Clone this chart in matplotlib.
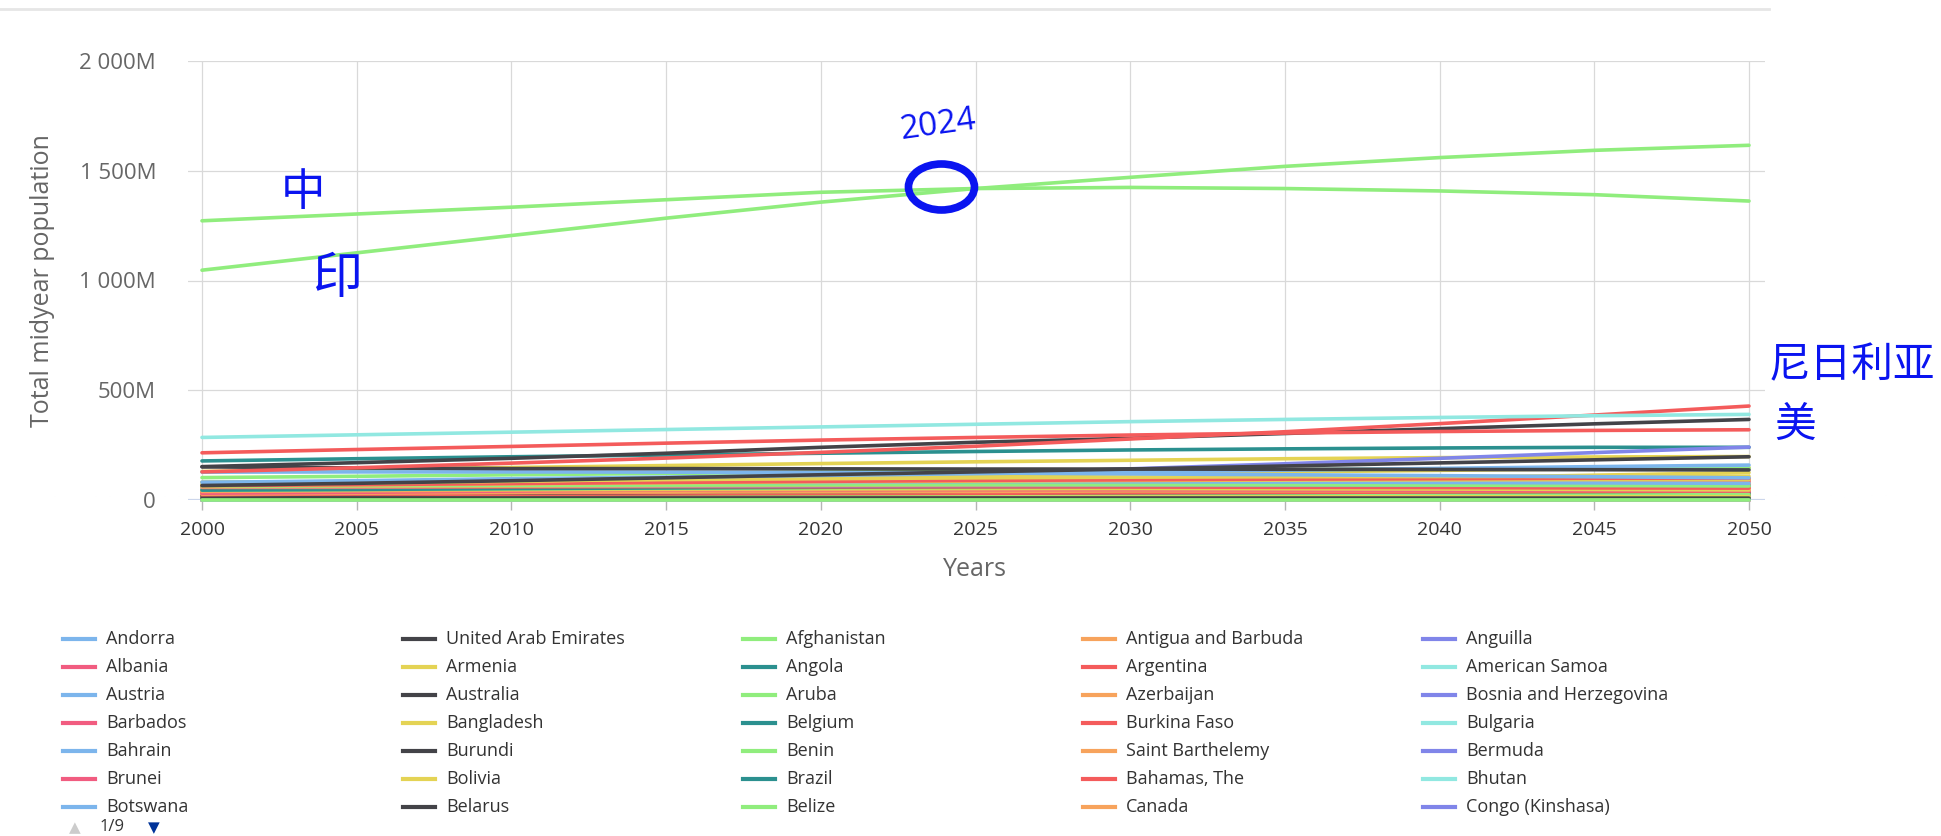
import matplotlib
matplotlib.use("Agg")
import matplotlib.pyplot as plt
from matplotlib.lines import Line2D
from matplotlib.patches import Ellipse

W, H = 1941, 836

years = [2000, 2005, 2010, 2015, 2020, 2025, 2030, 2035, 2040, 2045, 2050]

# population in millions (5-year steps)
# --- legend page 1 (35 entries) ---
andorra = [0.07, 0.08, 0.08, 0.08, 0.08, 0.09, 0.09, 0.09, 0.09, 0.09, 0.09]
united_arab_emirates = [3.2, 4.1, 8.3, 9.2, 9.9, 10.0, 10.5, 10.9, 11.3, 11.6, 11.9]
afghanistan = [20, 24, 28, 32, 37, 40, 45, 50, 55, 60, 64]
antigua_and_barbuda = [0.08, 0.08, 0.09, 0.1, 0.1, 0.1, 0.1, 0.1, 0.11, 0.11, 0.11]
anguilla = [0.01, 0.01, 0.01, 0.02, 0.02, 0.02, 0.02, 0.02, 0.02, 0.02, 0.02]
albania = [3.1, 3.0, 2.9, 3.0, 3.1, 3.1, 3.1, 3.0, 3.0, 2.9, 2.8]
armenia = [3.1, 3.0, 3.0, 3.0, 3.0, 3.0, 3.0, 2.9, 2.9, 2.8, 2.7]
angola = [16, 20, 24, 28, 32, 37, 42, 48, 54, 60, 67]
argentina = [37, 39, 41, 43, 45, 47, 48, 50, 51, 52, 53]
american_samoa = [0.06, 0.06, 0.06, 0.05, 0.05, 0.04, 0.04, 0.04, 0.04, 0.04, 0.04]
austria = [8.1, 8.2, 8.4, 8.7, 8.9, 9.0, 9.1, 9.2, 9.2, 9.2, 9.2]
australia = [19, 20, 22, 23, 25, 27, 28, 29, 30, 31, 32]
aruba = [0.09, 0.1, 0.1, 0.11, 0.12, 0.12, 0.12, 0.12, 0.12, 0.12, 0.12]
azerbaijan = [8.0, 8.4, 9.0, 9.6, 10.2, 10.6, 11.0, 11.3, 11.5, 11.6, 11.7]
bosnia_and_herzegovina = [3.8, 3.9, 3.9, 3.9, 3.8, 3.8, 3.7, 3.6, 3.5, 3.4, 3.3]
barbados = [0.27, 0.28, 0.28, 0.29, 0.29, 0.3, 0.3, 0.3, 0.3, 0.29, 0.29]
bangladesh = [130, 139, 148, 157, 166, 174, 181, 188, 193, 196, 198]
belgium = [10.3, 10.5, 10.9, 11.3, 11.7, 11.9, 12.1, 12.2, 12.3, 12.4, 12.4]
burkina_faso = [11.6, 13.4, 15.6, 18.1, 20.9, 23.8, 26.8, 29.9, 33.0, 36.1, 39.2]
bulgaria = [7.8, 7.5, 7.2, 7.0, 6.9, 6.8, 6.5, 6.3, 6.1, 5.9, 5.7]
bahrain = [0.7, 0.9, 1.2, 1.4, 1.5, 1.6, 1.7, 1.8, 1.8, 1.9, 1.9]
burundi = [6.7, 7.9, 9.3, 10.9, 12.6, 14.1, 15.9, 17.8, 19.7, 21.6, 23.5]
benin = [6.9, 8.0, 9.2, 10.7, 12.3, 14.1, 16.0, 18.0, 20.1, 22.2, 24.4]
saint_barthelemy = [0.007, 0.007, 0.007, 0.007, 0.007, 0.007, 0.007, 0.007, 0.007, 0.007, 0.007]
bermuda = [0.06, 0.07, 0.07, 0.07, 0.07, 0.07, 0.07, 0.06, 0.06, 0.06, 0.06]
brunei = [0.33, 0.36, 0.39, 0.42, 0.44, 0.49, 0.51, 0.53, 0.55, 0.56, 0.57]
bolivia = [8.3, 9.1, 9.9, 10.7, 11.6, 12.3, 13.0, 13.7, 14.3, 14.9, 15.4]
brazil = [178, 188, 197, 205, 213, 221, 228, 233, 237, 240, 240]
bahamas = [0.3, 0.32, 0.34, 0.36, 0.37, 0.41, 0.42, 0.44, 0.45, 0.46, 0.47]
bhutan = [0.6, 0.65, 0.7, 0.75, 0.78, 0.88, 0.92, 0.96, 0.99, 1.0, 1.0]
botswana = [1.6, 1.8, 2.0, 2.2, 2.3, 2.5, 2.7, 2.9, 3.0, 3.2, 3.3]
belarus = [10.0, 9.7, 9.5, 9.5, 9.4, 9.4, 9.2, 9.0, 8.8, 8.6, 8.4]
belize = [0.25, 0.29, 0.33, 0.37, 0.40, 0.42, 0.45, 0.48, 0.50, 0.52, 0.54]
canada = [31, 32, 34, 36, 37, 39, 41, 42, 43, 44, 45]
congo_kinshasa = [46, 55, 66, 80, 98, 119, 142, 165, 190, 216, 241]

# --- other countries that show on the chart ---
china = [1272, 1303, 1334, 1368, 1402, 1419, 1424, 1419, 1408, 1391, 1362]
india = [1047, 1126, 1205, 1284, 1357, 1419, 1470, 1520, 1560, 1593, 1616]
united_states = [285, 297, 309, 321, 333, 345, 357, 367, 376, 384, 390]
indonesia = [215, 230, 244, 259, 273, 285, 296, 305, 312, 317, 320]
nigeria = [128, 147, 168, 191, 217, 245, 278, 311, 348, 387, 428]
pakistan = [152, 170, 190, 213, 240, 263, 281, 303, 325, 347, 367]
russia = [151, 146, 143, 143, 142, 141, 141, 140, 139, 138, 137]
ethiopia = [66, 76, 88, 101, 115, 128, 141, 155, 169, 183, 197]
japan = [127, 128, 128, 127, 125, 123, 119, 115, 111, 106, 101]
philippines = [80, 88, 97, 104, 112, 120, 128, 136, 144, 152, 159]
mexico = [102, 108, 115, 121, 127, 131, 135, 138, 141, 143, 145]
egypt = [70, 77, 85, 95, 104, 112, 120, 128, 135, 142, 148]
vietnam = [80, 84, 88, 93, 97, 101, 104, 106, 107, 108, 108]
iran = [66, 70, 75, 80, 85, 89, 92, 95, 97, 99, 99]
turkey = [64, 69, 73, 78, 83, 86, 89, 91, 92, 93, 93]
germany = [82, 82, 81, 81, 80, 84, 83, 82, 80, 78, 76]
thailand = [63, 65, 67, 68, 69, 70, 70, 69, 68, 66, 64]
tanzania = [34, 39, 45, 52, 60, 69, 79, 90, 101, 113, 125]
united_kingdom = [59, 61, 63, 65, 67, 69, 70, 71, 72, 73, 73]
france = [59, 61, 63, 64, 65, 66, 67, 67, 67, 67, 67]
italy = [57, 58, 60, 61, 60, 60, 59, 58, 57, 55, 54]
south_africa = [45, 48, 52, 55, 58, 61, 63, 65, 67, 68, 69]
myanmar = [45, 48, 51, 54, 56, 57, 59, 60, 61, 61, 61]
kenya = [31, 35, 41, 46, 52, 57, 63, 69, 74, 80, 85]
south_korea = [47, 48, 49, 50, 51, 52, 52, 51, 50, 48, 46]
colombia = [39, 42, 45, 47, 50, 52, 54, 56, 58, 59, 60]
spain = [40, 43, 46, 47, 47, 47, 47, 46, 45, 44, 43]
uganda = [24, 28, 34, 40, 46, 53, 60, 68, 76, 84, 92]
sudan = [27, 31, 35, 39, 45, 50, 56, 62, 68, 74, 80]

legend_names = [
    "Andorra", "United Arab Emirates", "Afghanistan", "Antigua and Barbuda", "Anguilla",
    "Albania", "Armenia", "Angola", "Argentina", "American Samoa",
    "Austria", "Australia", "Aruba", "Azerbaijan", "Bosnia and Herzegovina",
    "Barbados", "Bangladesh", "Belgium", "Burkina Faso", "Bulgaria",
    "Bahrain", "Burundi", "Benin", "Saint Barthelemy", "Bermuda",
    "Brunei", "Bolivia", "Brazil", "Bahamas, The", "Bhutan",
    "Botswana", "Belarus", "Belize", "Canada", "Congo (Kinshasa)",
]
legend_values = [
    andorra, united_arab_emirates, afghanistan, antigua_and_barbuda, anguilla,
    albania, armenia, angola, argentina, american_samoa,
    austria, australia, aruba, azerbaijan, bosnia_and_herzegovina,
    barbados, bangladesh, belgium, burkina_faso, bulgaria,
    bahrain, burundi, benin, saint_barthelemy, bermuda,
    brunei, bolivia, brazil, bahamas, bhutan,
    botswana, belarus, belize, canada, congo_kinshasa,
]

other_names = ["Tanzania", "Uganda", "Sudan", "Kenya", "Spain", "Colombia", "South Korea",
               "Myanmar", "South Africa", "Italy", "France", "United Kingdom", "Thailand",
               "Germany", "Turkey", "Iran", "Vietnam", "Egypt", "Mexico", "Philippines",
               "Japan", "Ethiopia", "Russia", "Pakistan", "Nigeria", "Indonesia",
               "United States", "China", "India"]
other_values = [tanzania, uganda, sudan, kenya, spain, colombia, south_korea,
                myanmar, south_africa, italy, france, united_kingdom, thailand,
                germany, turkey, iran, vietnam, egypt, mexico, philippines,
                japan, ethiopia, russia, pakistan, nigeria, indonesia,
                united_states, china, india]

ytick_vals = [0, 500, 1000, 1500, 2000]
ytick_labels = ["0", "500M", "1 000M", "1 500M", "2 000M"]

# styles
palette = ['#7cb5ec', '#434348', '#90ed7d', '#f7a35c', '#8085e9',
           '#f15c80', '#e4d354', '#2b908f', '#f45b5b', '#91e8e1']
other_colors = {
    "Tanzania": '#e4d354', "Uganda": '#f45b5b', "Sudan": '#f7a35c', "Kenya": '#f15c80',
    "Spain": '#f15c80', "Colombia": '#f7a35c', "South Korea": '#e4d354',
    "Myanmar": '#90ed7d', "South Africa": '#2b908f', "Italy": '#f45b5b',
    "France": '#8085e9', "United Kingdom": '#f7a35c', "Thailand": '#90ed7d',
    "Germany": '#7cb5ec', "Turkey": '#e4d354', "Iran": '#f45b5b', "Vietnam": '#e4d354',
    "Egypt": '#e4d354', "Mexico": '#90ed7d', "Philippines": '#7cb5ec',
    "Japan": '#7cb5ec', "Ethiopia": '#434348', "Russia": '#434348',
    "Pakistan": '#434348', "Nigeria": '#f45b5b', "Indonesia": '#f45b5b',
    "United States": '#91e8e1', "China": '#90ed7d', "India": '#90ed7d',
}
BLUE = '#0a14f0'
LW = 2.6

plt.rcParams['font.family'] = ['Open Sans', 'DejaVu Sans']

fig = plt.figure(figsize=(W / 100, H / 100), dpi=100)
ax = fig.add_axes([188 / W, 1 - 500 / H, (1765 - 188) / W, (500 - 61) / H])

px_per_year = (1749 - 202) / 50
ax.set_xlim(2000 - 14 / px_per_year, 2050 + 16 / px_per_year)
ax.set_ylim(0, 2000)

# draw lines
for i, (name, vals) in enumerate(zip(legend_names, legend_values)):
    ax.plot(years, vals, color=palette[i % 10], lw=LW, clip_on=False,
            solid_capstyle='round', zorder=3)
for name, vals in zip(other_names, other_values):
    ax.plot(years, vals, color=other_colors[name], lw=LW, clip_on=False,
            solid_capstyle='round', zorder=3)

# grid / axes look
for s in ax.spines.values():
    s.set_visible(False)
ax.set_xticks(range(2000, 2051, 5))
ax.set_yticks(ytick_vals)
ax.set_yticklabels(ytick_labels)
ax.grid(True, color='#d9d9d9', lw=0.9, zorder=0)
ax.set_axisbelow(True)
ax.axhline(0, color='#ccd6eb', lw=1.6, zorder=2)
ax.tick_params(axis='x', direction='out', length=7, width=1, color='#b5b5b5',
               labelsize=14, labelcolor='#333333', pad=8)
ax.tick_params(axis='y', length=0, labelsize=16, labelcolor='#666666', pad=23)

fig.text(43 / W, 1 - 281 / H, "Total midyear population", rotation=90,
         ha='center', va='center', fontsize=18, color='#666666')
fig.text(975 / W, 1 - 569 / H, "Years", ha='center', va='center',
         fontsize=18, color='#666666')

# thin page border at the top
fig.add_artist(Line2D([0, 1769 / W], [1 - 9 / H, 1 - 9 / H], color='#e6e6e6', lw=2))

# legend, page 1 of 9 (row-major, 5 columns)
for i, name in enumerate(legend_names):
    r, c = divmod(i, 5)
    x0 = 63 + 340 * c
    y = 1 - (639 + 28 * r) / H
    fig.add_artist(Line2D([x0 / W, (x0 + 32) / W], [y, y], color=palette[i % 10], lw=3))
    fig.text((x0 + 43) / W, y, name, ha='left', va='center', fontsize=13, color='#333333')

# legend pager, sits on the bottom edge
fig.text(75 / W, 1 / H, "\u25b2", ha='center', va='bottom', fontsize=11,
         color='#cccccc', family='DejaVu Sans')
fig.text(112 / W, 1 / H, "1/9", ha='center', va='bottom', fontsize=12,
         color='#333333')
fig.text(154 / W, 1 / H, "\u25bc", ha='center', va='bottom', fontsize=11,
         color='#003399', family='DejaVu Sans')

# hand-written notes
cjk = ['Noto Sans CJK SC', 'DejaVu Sans']
fig.text(303 / W, 1 - 192 / H, "中", ha='center', va='center', fontsize=32,
         color=BLUE, family=cjk)
fig.text(337 / W, 1 - 279 / H, "印", ha='center', va='center', fontsize=36,
         color=BLUE, family=cjk)
fig.text(938 / W, 1 - 125 / H, "2024", ha='center', va='center', fontsize=24,
         color=BLUE, rotation=8)
ax.add_patch(Ellipse((2023.9, 1426), 66 / px_per_year, 46 * 2000 / 439,
                     fill=False, ec=BLUE, lw=5.5, zorder=5, clip_on=False))
fig.text(1852 / W, 1 - 366 / H, "尼日利亚", ha='center', va='center', fontsize=30,
         color=BLUE, family=cjk)
fig.text(1795 / W, 1 - 425 / H, "美", ha='center', va='center', fontsize=30,
         color=BLUE, family=cjk)

fig.savefig("out.png", dpi=100)
